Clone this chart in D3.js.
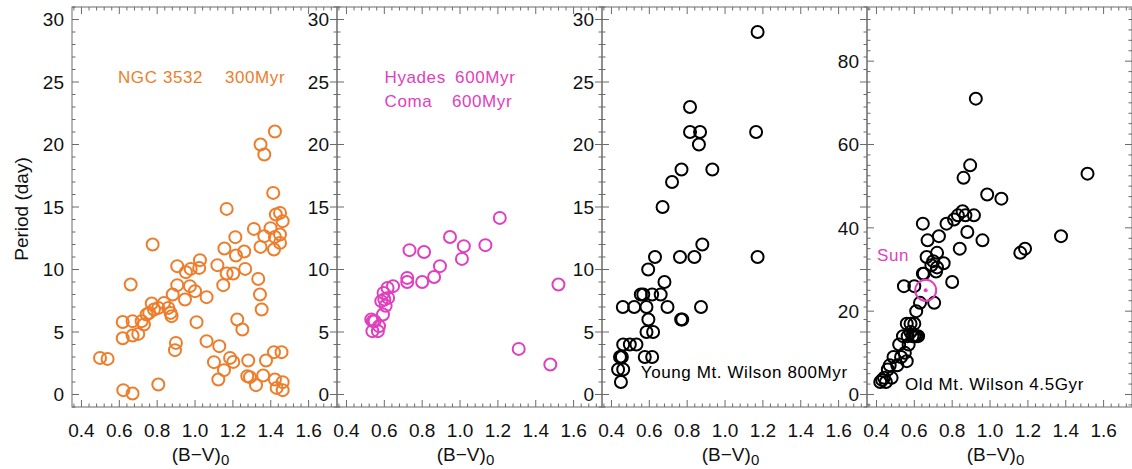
<!DOCTYPE html>
<html>
<head>
<meta charset="utf-8">
<script src="https://cdn.jsdelivr.net/npm/d3@7"></script>
<style>
  html, body { margin: 0; padding: 0; background: #fff; }
  svg { display: block; font-family: "Liberation Sans", Arial, Helvetica, sans-serif; }
</style>
</head>
<body>
<svg id="chart" width="1132" height="469"></svg>
<script>
// Rotation period vs. (B-V)0 colour for four stellar groups of increasing age.

// NGC 3532 (300 Myr): [B-V, period in days]
const ngc3532 = [
  [0.498, 2.93], [0.538, 2.85], [0.621, 0.35], [0.670, 0.08], [0.618, 5.8], [0.618, 4.5],
  [0.660, 8.8], [0.670, 5.87], [0.670, 4.72], [0.700, 4.85], [0.718, 5.87], [0.730, 5.6],
  [0.744, 6.4], [0.758, 6.53], [0.771, 7.28], [0.783, 6.8], [0.806, 6.93], [0.776, 12.0],
  [0.806, 0.8], [0.836, 7.33], [0.859, 6.93], [0.871, 6.53], [0.876, 6.27], [0.882, 8.0],
  [0.899, 4.13], [0.894, 3.55], [0.906, 10.27], [0.906, 8.75], [0.947, 7.6], [0.952, 9.79],
  [0.977, 10.05], [0.973, 8.67], [1.000, 8.27], [1.008, 5.79], [1.026, 10.75], [1.022, 10.13],
  [1.061, 7.79], [1.061, 4.27], [1.100, 2.59], [1.118, 10.35], [1.128, 3.87], [1.123, 1.2],
  [1.153, 1.95], [1.149, 8.75], [1.155, 11.68], [1.167, 14.85], [1.167, 9.68], [1.202, 9.68],
  [1.185, 2.93], [1.202, 2.61], [1.213, 12.59], [1.216, 11.12], [1.223, 6.0], [1.250, 5.2],
  [1.260, 11.44], [1.265, 10.05], [1.281, 2.72], [1.276, 1.47], [1.290, 1.39], [1.311, 13.25],
  [1.322, 0.75], [1.334, 9.25], [1.343, 8.0], [1.352, 6.8], [1.346, 11.81], [1.346, 20.0],
  [1.366, 19.2], [1.366, 12.67], [1.360, 1.52], [1.375, 2.72], [1.399, 13.31], [1.417, 11.6],
  [1.422, 12.61], [1.413, 16.13], [1.422, 21.04], [1.417, 3.39], [1.422, 1.2], [1.431, 0.53],
  [1.427, 14.4], [1.449, 14.53], [1.449, 12.8], [1.449, 12.13], [1.457, 3.39], [1.463, 0.99],
  [1.463, 0.35], [1.463, 13.87]
];

// Hyades and Coma (600 Myr)
const hyadesComa = [
  [0.537, 5.07], [0.566, 5.07], [0.540, 5.87], [0.531, 6.0], [0.549, 5.87], [0.572, 5.47],
  [0.593, 6.4], [0.584, 7.47], [0.596, 8.13], [0.600, 7.6], [0.607, 7.1], [0.620, 7.73],
  [0.617, 8.53], [0.646, 8.67], [0.721, 9.33], [0.721, 9.0], [0.733, 11.55], [0.800, 9.0],
  [0.810, 11.4], [0.863, 9.4], [0.894, 10.27], [0.947, 12.6], [1.010, 10.85], [1.020, 11.87],
  [1.134, 11.95], [1.210, 14.13], [1.310, 3.65], [1.477, 2.4], [1.520, 8.8]
];

// Young Mt. Wilson stars (800 Myr)
const youngMtWilson = [
  [0.45, 1], [0.435, 2], [0.462, 2], [0.445, 3], [0.455, 3], [0.450, 3],
  [0.462, 4], [0.497, 4], [0.532, 4], [0.460, 7], [0.520, 7], [0.576, 3], [0.615, 3],
  [0.585, 5], [0.620, 5], [0.595, 6], [0.585, 7], [0.555, 8], [0.568, 8], [0.615, 8],
  [0.660, 8], [0.594, 10], [0.630, 11], [0.680, 9], [0.696, 7], [0.670, 15], [0.720, 17],
  [0.770, 18], [0.762, 11], [0.815, 23], [0.815, 21], [0.868, 21], [0.862, 20], [0.768, 6],
  [0.774, 6], [0.838, 11], [0.880, 12], [0.873, 7], [0.933, 18], [1.172, 29], [1.164, 21],
  [1.172, 11]
];

// Old Mt. Wilson stars (4.5 Gyr)
const oldMtWilson = [
  [0.420, 3], [0.430, 3.5], [0.440, 4], [0.450, 3], [0.460, 6], [0.470, 7], [0.480, 4],
  [0.490, 9], [0.510, 7], [0.520, 12], [0.530, 9], [0.540, 14], [0.545, 26], [0.550, 10],
  [0.560, 8], [0.560, 17], [0.565, 14], [0.570, 12], [0.580, 17], [0.580, 15], [0.590, 14],
  [0.600, 17], [0.600, 14], [0.610, 14], [0.620, 14], [0.600, 26], [0.610, 20], [0.630, 22],
  [0.645, 29], [0.650, 29], [0.645, 41], [0.665, 33], [0.670, 37], [0.690, 31], [0.705, 22],
  [0.700, 32], [0.715, 29.5], [0.720, 30.5], [0.720, 34], [0.730, 38], [0.755, 31.5],
  [0.770, 41], [0.800, 27], [0.810, 42], [0.830, 43], [0.840, 35], [0.855, 44], [0.860, 52],
  [0.870, 43], [0.880, 39], [0.895, 55], [0.915, 43], [0.925, 71], [0.960, 37], [0.985, 48],
  [1.060, 47], [1.160, 34], [1.185, 35], [1.375, 38], [1.515, 53]
];

// The Sun
const sun = [0.66, 25];

// Axis tick labels
const xTickLabels = ["0.4", "0.6", "0.8", "1.0", "1.2", "1.4", "1.6"];
const yTickLabelsShort = ["0", "5", "10", "15", "20", "25", "30"];
const yTickLabelsLong = ["0", "20", "40", "60", "80"];

const orange = "#ee7d2b";
const magenta = "#e040be";

const svg = d3.select("#chart");
const plotTop = 7, plotBottom = 407;
const panelW = 265;
const panelLefts = [72, 337, 602, 867];
const tickFont = 19;

const panels = [
  { data: ngc3532, color: orange, yDomain: [-1, 31], yStep: 1, yMajor: 5, yLabels: yTickLabelsShort,
    notes: [
      { t: "NGC 3532", x: 0.593, y: 24.96, c: orange },
      { t: "300Myr", x: 1.158, y: 24.96, c: orange }
    ] },
  { data: hyadesComa, color: magenta, yDomain: [-1, 31], yStep: 1, yMajor: 5, yLabels: yTickLabelsShort,
    notes: [
      { t: "Hyades", x: 0.601, y: 24.9, c: magenta },
      { t: "600Myr", x: 0.974, y: 24.9, c: magenta },
      { t: "Coma", x: 0.601, y: 23.0, c: magenta },
      { t: "600Myr", x: 0.957, y: 23.0, c: magenta }
    ] },
  { data: youngMtWilson, color: "#000", yDomain: [-1, 31], yStep: 1, yMajor: 5, yLabels: yTickLabelsShort,
    notes: [
      { t: "Young Mt. Wilson 800Myr", x: 0.555, y: 1.33, c: "#000" }
    ] },
  { data: oldMtWilson, color: "#000", yDomain: [-3, 93], yStep: 2.5, yMajor: 20, yLabels: yTickLabelsLong,
    notes: [
      { t: "Old Mt. Wilson 4.5Gyr", x: 0.551, y: 1.04, c: "#000" },
      { t: "Sun", x: 0.403, y: 32, c: magenta }
    ],
    sun: true }
];

panels.forEach((p, i) => {
  const left = panelLefts[i];
  const x = d3.scaleLinear().domain([0.35, 1.75]).range([left, left + panelW]);
  const y = d3.scaleLinear().domain(p.yDomain).range([plotBottom, plotTop]);
  const g = svg.append("g");
  const axisCol = "#6b6b6b";

  // frame
  g.append("rect")
    .attr("x", left).attr("y", plotTop)
    .attr("width", panelW).attr("height", plotBottom - plotTop)
    .attr("fill", "none").attr("stroke", axisCol).attr("stroke-width", 1);

  // x ticks (bottom and top, inward), minor every 0.04
  for (let k = 9; k <= 43; k++) {
    const px = x(k * 0.04);
    const len = (k % 5 === 0) ? 7 : 3.5;
    g.append("line").attr("x1", px).attr("x2", px)
      .attr("y1", plotBottom).attr("y2", plotBottom - len)
      .attr("stroke", axisCol).attr("stroke-width", 1);
    g.append("line").attr("x1", px).attr("x2", px)
      .attr("y1", plotTop).attr("y2", plotTop + len)
      .attr("stroke", axisCol).attr("stroke-width", 1);
  }
  xTickLabels.forEach(s => {
    g.append("text").attr("x", x(+s)).attr("y", 437)
      .attr("text-anchor", "middle").attr("font-size", tickFont).attr("fill", "#111")
      .text(s);
  });

  // y ticks (left and right, inward)
  const n0 = Math.ceil(p.yDomain[0] / p.yStep), n1 = Math.floor(p.yDomain[1] / p.yStep);
  for (let k = n0; k <= n1; k++) {
    const v = k * p.yStep;
    const py = y(v);
    const major = Math.abs(v % p.yMajor) < 1e-9;
    const len = major ? 7 : 3.5;
    g.append("line").attr("x1", left).attr("x2", left + len)
      .attr("y1", py).attr("y2", py).attr("stroke", axisCol).attr("stroke-width", 1);
    g.append("line").attr("x1", left + panelW).attr("x2", left + panelW - len)
      .attr("y1", py).attr("y2", py).attr("stroke", axisCol).attr("stroke-width", 1);
  }
  p.yLabels.forEach(s => {
    g.append("text").attr("x", left - 8).attr("y", y(+s))
      .attr("dy", "0.36em")
      .attr("text-anchor", "end").attr("font-size", tickFont).attr("fill", "#111")
      .text(s);
  });

  // x axis title (B-V)0
  const xt = g.append("text").attr("x", left + panelW / 2 - 4).attr("y", 461)
    .attr("text-anchor", "middle").attr("font-size", tickFont).attr("fill", "#111");
  xt.append("tspan").text("(B\u2212V)");
  xt.append("tspan").attr("dy", 4).attr("font-size", 15).text("0");

  // points
  g.selectAll("circle.pt").data(p.data).join("circle")
    .attr("class", "pt")
    .attr("cx", d => x(d[0])).attr("cy", d => y(d[1]))
    .attr("r", 6)
    .attr("fill", "none").attr("stroke", p.color).attr("stroke-width", 2);

  if (p.sun) {
    g.append("circle").attr("cx", x(sun[0])).attr("cy", y(sun[1])).attr("r", 10.5)
      .attr("fill", "none").attr("stroke", magenta).attr("stroke-width", 2);
    g.append("circle").attr("cx", x(sun[0])).attr("cy", y(sun[1])).attr("r", 2)
      .attr("fill", magenta);
  }

  // annotations
  p.notes.forEach(n => {
    g.append("text").attr("x", x(n.x)).attr("y", y(n.y))
      .attr("font-size", 17).attr("letter-spacing", 0.6).attr("fill", n.c).text(n.t);
  });
});

// shared y axis title
svg.append("text")
  .attr("transform", "translate(28,209) rotate(-90)")
  .attr("text-anchor", "middle").attr("font-size", tickFont).attr("fill", "#111")
  .text("Period (day)");
</script>
</body>
</html>
